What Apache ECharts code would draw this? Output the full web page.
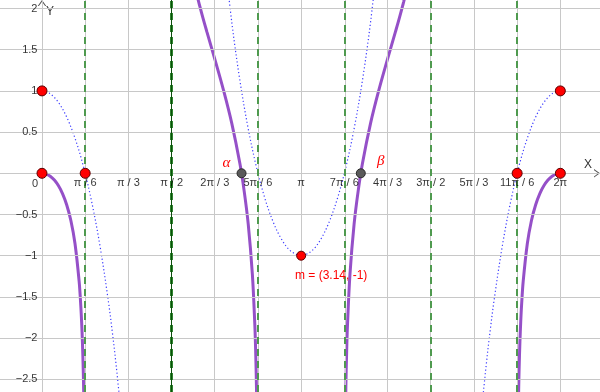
<!DOCTYPE html>
<html><head><meta charset="utf-8">
<script src="https://cdn.jsdelivr.net/npm/echarts@6/dist/echarts.min.js"></script>
<style>html,body{margin:0;padding:0;background:#fff}#c{width:600px;height:392px}</style>
</head><body><div id="c"></div>
<script>
const PI = Math.PI;
// axis ticks
const xTickLabels = ['0','π / 6','π / 3','π / 2','2π / 3','5π / 6','π','7π / 6','4π / 3','3π / 2','5π / 3','11π / 6','2π'];
const xTickValues = xTickLabels.map((_, i) => i * PI / 6);
const yTickValues = [-2.5, -2, -1.5, -1, -0.5, 0.5, 1, 1.5, 2];
const yGridValues = [-2.5, -2, -1.5, -1, -0.5, 0, 0.5, 1, 1.5, 2];
const asymptotesLight = [PI / 6, 5 * PI / 6, 7 * PI / 6, 11 * PI / 6, 3 * PI / 2];
const asymptotesDark = [PI / 2];

// blue dotted curve (three visible branches)
const blueX1 = [0, 0.1, 0.2, 0.3, 0.4, 0.5, 0.6, 0.7, 0.8, 0.85, 0.9, 0.95];
const blueY1 = [1, 0.965, 0.859, 0.681, 0.427, 0.092, -0.334, -0.863, -1.519, -1.906, -2.340, -2.831];
const blueX2 = [2.2, 2.3, 2.4, 2.5, 2.6, 2.7, 2.8, 2.9, 3.0, 3.1, 3.1416, 3.1832, 3.2832, 3.3832, 3.4832, 3.5832, 3.6832, 3.7832, 3.8832, 3.9832, 4.0832];
const blueY2 = [2.744, 1.838, 1.119, 0.540, 0.073, -0.298, -0.585, -0.794, -0.930, -0.994, -1, -0.994, -0.930, -0.794, -0.585, -0.298, 0.073, 0.540, 1.119, 1.838, 2.744];
const blueX3 = [5.3332, 5.3832, 5.4332, 5.4832, 5.5832, 5.6832, 5.7832, 5.8832, 5.9832, 6.0832, 6.1832, 6.2832];
const blueY3 = [-2.831, -2.340, -1.906, -1.519, -0.863, -0.334, 0.092, 0.427, 0.681, 0.859, 0.965, 1];

// purple curve (four visible branches)
const purpleX1 = [0, 0.05, 0.1, 0.15, 0.2, 0.25, 0.3, 0.35, 0.4, 0.45, 0.47, 0.48, 0.49, 0.5, 0.505, 0.51];
const purpleY1 = [0, -0.009, -0.036, -0.082, -0.152, -0.249, -0.384, -0.573, -0.851, -1.309, -1.602, -1.797, -2.046, -2.388, -2.620, -2.927];
const purpleX2 = [1.88, 1.9, 1.95, 2.0, 2.1, 2.2, 2.3, 2.4, 2.45, 2.5, 2.55, 2.58, 2.59, 2.6, 2.61];
const purpleY2 = [2.155, 2.078, 1.889, 1.713, 1.367, 1.009, 0.608, 0.112, -0.210, -0.616, -1.224, -1.841, -2.157, -2.611, -3.434];
const purpleX3 = [3.6732, 3.6832, 3.6932, 3.7032, 3.7332, 3.7832, 3.8332, 3.8832, 3.9832, 4.0832, 4.1832, 4.2832, 4.3332, 4.3832, 4.4032];
const purpleY3 = [-3.434, -2.611, -2.157, -1.841, -1.224, -0.616, -0.210, 0.112, 0.608, 1.009, 1.367, 1.713, 1.889, 2.078, 2.155];
const purpleX4 = [5.7732, 5.7782, 5.7832, 5.7932, 5.8032, 5.8132, 5.8332, 5.8832, 5.9332, 5.9832, 6.0332, 6.0832, 6.1332, 6.1832, 6.2332, 6.2832];
const purpleY4 = [-2.927, -2.620, -2.388, -2.046, -1.797, -1.602, -1.309, -0.851, -0.573, -0.384, -0.249, -0.152, -0.082, -0.036, -0.009, 0];

// points
const redPointsX = [0, 0, PI / 6, 11 * PI / 6, 2 * PI, 2 * PI];
const redPointsY = [1, 0, 0, 0, 0, 1];
const mPoint = [3.1416, -1];
const mLabel = 'm = (3.14, -1)';
const rootNames = ['α', 'β'];
const rootX = [2.4189, 3.8643];
const rootY = [0, 0];

const zip = (xs, ys) => xs.map((x, i) => [x, ys[i]]);

const chart = echarts.init(document.getElementById('c'), null, { renderer: 'canvas' });

const FONT = 'Liberation Sans, Arial, sans-serif';
const purple = '#9550c8';
const blue = '#3c3cff';

const arrowPath = 'path://M0,7 L5,0 L10,7 L8.6,7 L5,2 L1.4,7 Z';

function lineSeries(xs, ys, color, width, type, z) {
  return {
    type: 'line', data: zip(xs, ys), showSymbol: false, symbol: 'none',
    smooth: 0.35, clip: true, silent: true, z: z,
    lineStyle: { color: color, width: width, type: type }
  };
}

const option = {
  backgroundColor: '#ffffff',
  animation: false,
  grid: { left: 0, right: 0, top: 0, bottom: 0, containLabel: false, outerBoundsMode: 'none' },
  xAxis: {
    type: 'value', min: -0.509, max: 6.764, z: 1,
    name: 'X', nameLocation: 'end', nameGap: -12,
    nameTextStyle: { fontFamily: FONT, fontSize: 12, color: '#333', align: 'center', verticalAlign: 'bottom', padding: [0, 0, 3, 0] },
    axisLine: { show: true, onZero: true, lineStyle: { color: '#555', width: 1 }, symbol: ['none', arrowPath], symbolSize: [10, 6], symbolOffset: [0, -3] },
    axisTick: { show: false },
    splitLine: { show: false },
    axisLabel: { show: false }
  },
  yAxis: {
    type: 'value', min: -2.654, max: 2.103, z: 1,
    name: 'Y', nameLocation: 'end', nameGap: -12,
    nameTextStyle: { fontFamily: FONT, fontSize: 12, color: '#333', align: 'left', verticalAlign: 'middle', padding: [0, 0, 0, 4] },
    axisLine: { show: true, onZero: true, lineStyle: { color: '#555', width: 1 }, symbol: ['none', arrowPath], symbolSize: [10, 6], symbolOffset: [0, -3] },
    axisTick: { show: false },
    splitLine: { show: false },
    axisLabel: { show: false }
  },
  series: [
    {
      type: 'line', data: [], silent: true, z: 0,
      markLine: {
        silent: true, symbol: ['none', 'none'], label: { show: false }, animation: false,
        lineStyle: { color: '#c8c8c8', width: 1, type: 'solid' },
        data: xTickValues.map(v => ({ xAxis: v })).concat(yGridValues.map(v => ({ yAxis: v })))
      }
    },
    {
      type: 'line', data: [], silent: true, z: 2,
      markLine: {
        silent: true, symbol: ['none', 'none'], label: { show: false }, animation: false,
        lineStyle: { color: '#4f9a4f', width: 2, type: [7, 5] },
        data: asymptotesLight.map(v => ({ xAxis: v }))
      }
    },
    {
      type: 'line', data: [], silent: true, z: 2,
      markLine: {
        silent: true, symbol: ['none', 'none'], label: { show: false }, animation: false,
        lineStyle: { color: '#2f862f', width: 3, type: [7, 5] },
        data: asymptotesDark.map(v => ({ xAxis: v }))
      }
    },
    {
      type: 'line', data: [], silent: true, z: 2,
      markLine: {
        silent: true, symbol: ['none', 'none'], label: { show: false }, animation: false,
        lineStyle: { color: '#0b4f0b', width: 1, type: 'solid' },
        data: asymptotesDark.map(v => ({ xAxis: v }))
      }
    },
    // x tick labels
    {
      type: 'scatter', z: 5, silent: true, symbolSize: 1,
      itemStyle: { color: 'rgba(0,0,0,0)' },
      data: xTickValues.map((v, i) => ({
        value: [v, 0], name: xTickLabels[i],
        label: i === 0 ? { offset: [-7, 1] } : undefined
      })),
      label: {
        show: true, position: 'bottom', distance: 4, formatter: p => p.name,
        fontFamily: FONT, fontSize: 11, color: '#000'
      }
    },
    // y tick labels
    {
      type: 'scatter', z: 5, silent: true, symbolSize: 1,
      itemStyle: { color: 'rgba(0,0,0,0)' },
      data: yTickValues.map(v => ({ value: [0, v], name: String(v).replace('-', '\u2212') })),
      label: {
        show: true, position: 'left', distance: 4, formatter: p => p.name,
        fontFamily: FONT, fontSize: 11, color: '#000'
      }
    },
    lineSeries(blueX1, blueY1, blue, 1.2, [1.2, 2.4], 3),
    lineSeries(blueX2, blueY2, blue, 1.2, [1.2, 2.4], 3),
    lineSeries(blueX3, blueY3, blue, 1.2, [1.2, 2.4], 3),
    lineSeries(purpleX1, purpleY1, purple, 3, 'solid', 4),
    lineSeries(purpleX2, purpleY2, purple, 3, 'solid', 4),
    lineSeries(purpleX3, purpleY3, purple, 3, 'solid', 4),
    lineSeries(purpleX4, purpleY4, purple, 3, 'solid', 4),
    {
      type: 'scatter', z: 6, silent: true, symbolSize: 9,
      itemStyle: { color: '#5a5a5a', borderColor: '#2a2a2a', borderWidth: 1, opacity: 1 },
      data: rootX.map((x, i) => ({ value: [x, rootY[i]], name: rootNames[i] })),
      label: {
        show: true, formatter: p => p.name, position: 'inside',
        fontFamily: 'Liberation Serif, Times New Roman, serif', fontStyle: 'italic', fontSize: 15, color: '#ff0000'
      },
      labelLayout: function (p) {
        return p.dataIndex === 0 ? { dx: -15, dy: -10 } : { dx: 20, dy: -12 };
      }
    },
    {
      type: 'scatter', z: 7, silent: true, symbolSize: 10,
      itemStyle: { color: '#ff0000', borderColor: '#5a0000', borderWidth: 1, opacity: 1 },
      data: zip(redPointsX, redPointsY)
    },
    {
      type: 'scatter', z: 7, silent: true, symbolSize: 9,
      itemStyle: { color: '#ff0000', borderColor: '#5a0000', borderWidth: 1, opacity: 1 },
      data: [{ value: mPoint, name: mLabel }],
      label: {
        show: true, formatter: p => p.name, position: 'inside',
        fontFamily: FONT, fontSize: 12, color: '#ff0000'
      },
      labelLayout: { dx: 30, dy: 20 }
    }
  ]
};
chart.setOption(option);
</script>
</body></html>
